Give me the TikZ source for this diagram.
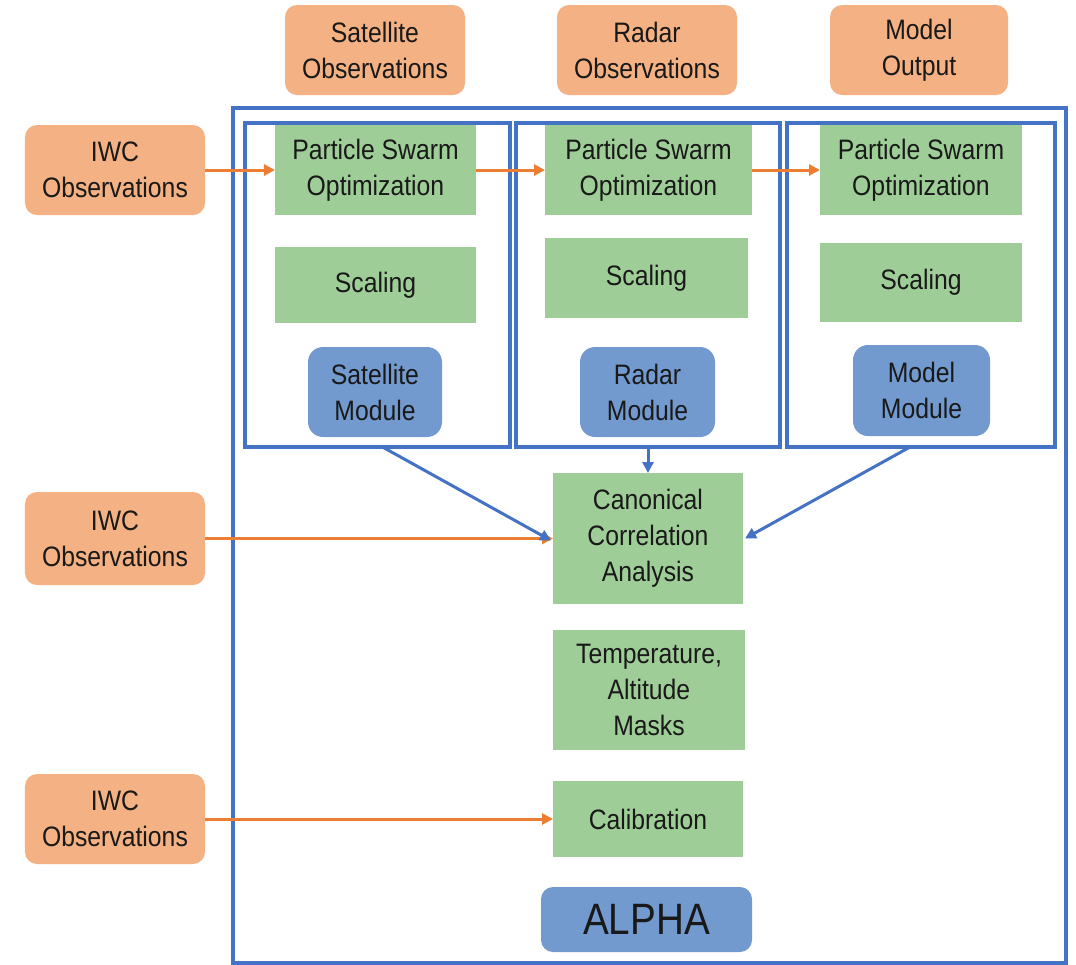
\documentclass[tikz,border=0pt]{standalone}
\usepackage{fontspec}
\setmainfont[FakeStretch=0.88]{Liberation Sans}
\usepackage{xcolor}
\usepackage{tikz}
\usetikzlibrary{positioning,calc,arrows.meta}

\definecolor{obsorange}{HTML}{F4B183}
\definecolor{arrorange}{HTML}{ED7D31}
\definecolor{stepgreen}{HTML}{9FCD97}
\definecolor{modblue}{HTML}{729ACF}
\definecolor{frameblue}{HTML}{4472C4}

\begin{document}
\begin{tikzpicture}[x=0.2mm,y=-0.2mm,
    every node/.style={font=\fontsize{16}{20.5}\selectfont, text=black!90, align=center, inner sep=0pt, outer sep=0pt},
    obs/.style={fill=obsorange, rounded corners=2.4mm, minimum width=36mm, minimum height=18mm},
    stepbox/.style={fill=stepgreen, minimum width=40.2mm, minimum height=18mm},
    module/.style={fill=modblue, rounded corners=3mm, minimum width=27mm, minimum height=18mm},
    frame/.style={draw=frameblue, line width=0.8mm},
    feed/.style={draw=arrorange, line width=0.6mm, -{Triangle[length=2.2mm,width=2.2mm]}},
    link/.style={draw=frameblue, line width=0.6mm, -{Triangle[length=2.2mm,width=2.2mm]}}]
    \useasboundingbox (0,0) rectangle (1076,965);
    % Outer frame
    \draw[frame] (233,108) rectangle (1066,963);
    % Inputs on top
    \node[obs] (satobs) at (375,50) {Satellite\\Observations};
    \node[obs] (radobs) at (647,50) {Radar\\Observations};
    \node[obs, minimum width=35.6mm] (modout) at (919,50) {Model\\Output};
    % IWC inputs on the left
    \node[obs] (iwca) at (115,170) {IWC\\Observations};
    \node[obs, minimum height=18.6mm] (iwcb) at (115,538.5) {IWC\\Observations};
    \node[obs] (iwcc) at (115,819) {IWC\\Observations};
    % Module frames
    \node[frame, minimum width=53mm, minimum height=64.8mm] (sbox) at (377.5,285) {};
    \node[frame, minimum width=52.8mm, minimum height=64.8mm] (rbox) at (648,285) {};
    \node[frame, minimum width=53.6mm, minimum height=64.8mm] (mbox) at (921,285) {};
    % Satellite column
    \node[stepbox] (psoa) at (375.5,170) {Particle Swarm\\Optimization};
    \node[stepbox, minimum height=15.2mm] (scala) at (375.5,285) {Scaling};
    \node[module, minimum width=26.8mm] (satmod) at (375,392) {Satellite\\Module};
    % Radar column
    \node[stepbox, minimum width=41.4mm] (psob) at (648.5,170) {Particle Swarm\\Optimization};
    \node[stepbox, minimum width=40.6mm, minimum height=16mm] (scalb) at (646.5,278) {Scaling};
    \node[module] (radmod) at (647.5,392) {Radar\\Module};
    % Model column
    \node[stepbox, minimum width=40.4mm] (psoc) at (921,170) {Particle Swarm\\Optimization};
    \node[stepbox, minimum width=40.4mm, minimum height=15.8mm] (scalc) at (921,282.5) {Scaling};
    \node[module, minimum width=27.4mm, minimum height=18.2mm] (modmod) at (921.5,390.5) {Model\\Module};
    % Lower chain
    \node[stepbox, minimum width=38mm, minimum height=26.2mm] (cca) at (648,538.5) {Canonical\\Correlation\\Analysis};
    \node[stepbox, minimum width=38.4mm, minimum height=24mm] (masks) at (649,690) {Temperature,\\Altitude\\Masks};
    \node[stepbox, minimum width=38mm, minimum height=15.2mm] (calib) at (648,819) {Calibration};
    \node[module, rounded corners=2.4mm, minimum width=42.2mm, minimum height=13mm, font=\fontsize{25}{30}\selectfont] (alpha) at (646.5,919.5) {ALPHA};
    % Orange arrows
    \draw[feed] (iwca) -- (psoa);
    \draw[feed] (psoa) -- (psob);
    \draw[feed] (psob) -- (psoc);
    \draw[feed] (iwcb) -- (cca);
    \draw[feed] (iwcc) -- (calib);
    % Blue arrows
    \draw[link] ($(sbox.south)+(5,0)$) -- ($(cca.west)+(-2,2)$);
    \draw[link] (rbox.south) -- (cca.north);
    \draw[link] ($(mbox.south)+(-11,0)$) -- ($(cca.east)+(2,0)$);
\end{tikzpicture}
\end{document}
